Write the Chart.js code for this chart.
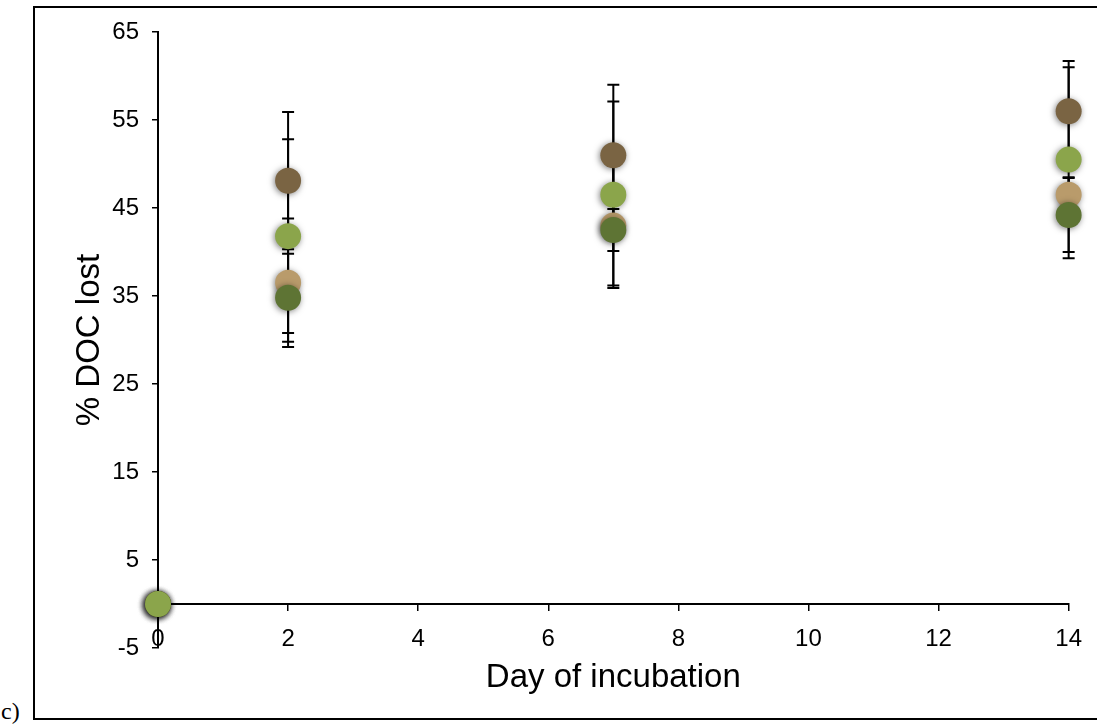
<!DOCTYPE html>
<html>
<head>
<meta charset="utf-8">
<script src="https://cdn.jsdelivr.net/npm/chart.js@4"></script>
<style>
  html, body { margin: 0; padding: 0; background: #fff; }
  #wrap { position: relative; width: 1097px; height: 724px; overflow: hidden; }
  #frame { position: absolute; left: 33px; top: 6px; width: 1100px; height: 714px; border: 2px solid #000; box-sizing: border-box; }
  #tag { position: absolute; left: 1px; top: 698px; font: 24px "Liberation Serif", serif; color: #000; }
  canvas { position: absolute; left: 0; top: 0; }
</style>
</head>
<body>
<div id="wrap">
  <div id="frame"></div>
  <div id="tag">c)</div>
  <canvas id="docChart" width="1097" height="724"></canvas>
</div>
<script>
const days = [0, 2, 7, 14];
const xTickStep = 2;
const yTicks = [-5, 5, 15, 25, 35, 45, 55, 65];

// mean % DOC lost and +/- error for each treatment
const brownVals = [0, 48.1, 51.0, 56.0];
const brownErr = [0, 7.8, 8.0, 5.0];
const tanVals = [0, 36.5, 43.0, 46.5];
const tanErr = [0, 7.3, 6.8, 2.0];
const darkGreenVals = [0, 34.8, 42.5, 44.2];
const darkGreenErr = [0, 5.0, 2.4, 4.2];
const lightGreenVals = [0, 41.8, 46.5, 50.5];
const lightGreenErr = [0, 11.0, 10.6, 11.2];

const font = "'Liberation Sans', Arial, Helvetica, sans-serif";

function series(label, vals, errs, color) {
  return {
    label: label,
    data: days.map((d, i) => ({ x: d, y: vals[i] })),
    errors: errs,
    backgroundColor: color,
    borderColor: color,
    showLine: false,
    clip: false,
  };
}

// black error bars with caps, under the points
const errorBars = {
  id: "errorBars",
  beforeDatasetsDraw(chart) {
    const { ctx, scales: { x, y } } = chart;
    ctx.save();
    ctx.strokeStyle = "#000";
    ctx.lineWidth = 2;
    chart.data.datasets.forEach((ds) => {
      ds.data.forEach((p, i) => {
        const e = ds.errors[i];
        if (!e) return;
        const px = x.getPixelForValue(p.x);
        const top = y.getPixelForValue(p.y + e);
        const bot = y.getPixelForValue(p.y - e);
        ctx.beginPath();
        ctx.moveTo(px, top); ctx.lineTo(px, bot);
        ctx.moveTo(px - 6, top); ctx.lineTo(px + 6, top);
        ctx.moveTo(px - 6, bot); ctx.lineTo(px + 6, bot);
        ctx.stroke();
      });
    });
    ctx.restore();
  },
};

// soft drop shadow on the markers
const pointShadow = {
  id: "pointShadow",
  beforeDatasetDraw(chart) {
    const c = chart.ctx;
    c.save();
    c.shadowColor = "rgba(0,0,0,0.5)";
    c.shadowBlur = 6;
    c.shadowOffsetX = -1;
    c.shadowOffsetY = 1;
  },
  afterDatasetDraw(chart) {
    chart.ctx.restore();
  },
};

// first dataset is painted last (on top)
new Chart(document.getElementById("docChart"), {
  type: "scatter",
  data: {
    datasets: [
      series("D", lightGreenVals, lightGreenErr, "#8ba54b"),
      series("C", darkGreenVals, darkGreenErr, "#5e7434"),
      series("B", tanVals, tanErr, "#b99b6b"),
      series("A", brownVals, brownErr, "#7a6443"),
    ],
  },
  options: {
    responsive: false,
    animation: false,
    layout: { padding: { left: 0, right: 27, top: 32, bottom: 76 } },
    plugins: { legend: { display: false }, tooltip: { enabled: false } },
    elements: { point: { radius: 13, hoverRadius: 13, borderWidth: 0 } },
    scales: {
      x: {
        type: "linear",
        position: { y: 0 },
        min: 0,
        max: 14,
        ticks: { stepSize: xTickStep, color: "#000", padding: 15, font: { family: font, size: 24 } },
        grid: { drawOnChartArea: false, tickLength: 6, color: "#000", lineWidth: 1.5 },
        border: { color: "#000", width: 2 },
        title: { display: true, text: "Day of incubation", color: "#000", padding: 0, font: { family: font, size: 33 } },
        afterFit(s) { s.height = 94; },
      },
      y: {
        min: -5,
        max: 65,
        afterBuildTicks(s) { s.ticks = yTicks.map((v) => ({ value: v })); },
        afterFit(s) { s.width = 158; },
        ticks: { color: "#000", padding: 13, font: { family: font, size: 24 } },
        grid: { drawOnChartArea: false, tickLength: 6, color: "#000", lineWidth: 1.5 },
        border: { color: "#000", width: 2 },
        title: { display: true, text: "% DOC lost", color: "#000", padding: { top: 70, bottom: 0 }, font: { family: font, size: 33 } },
      },
    },
  },
  plugins: [errorBars, pointShadow],
});
</script>
</body>
</html>
